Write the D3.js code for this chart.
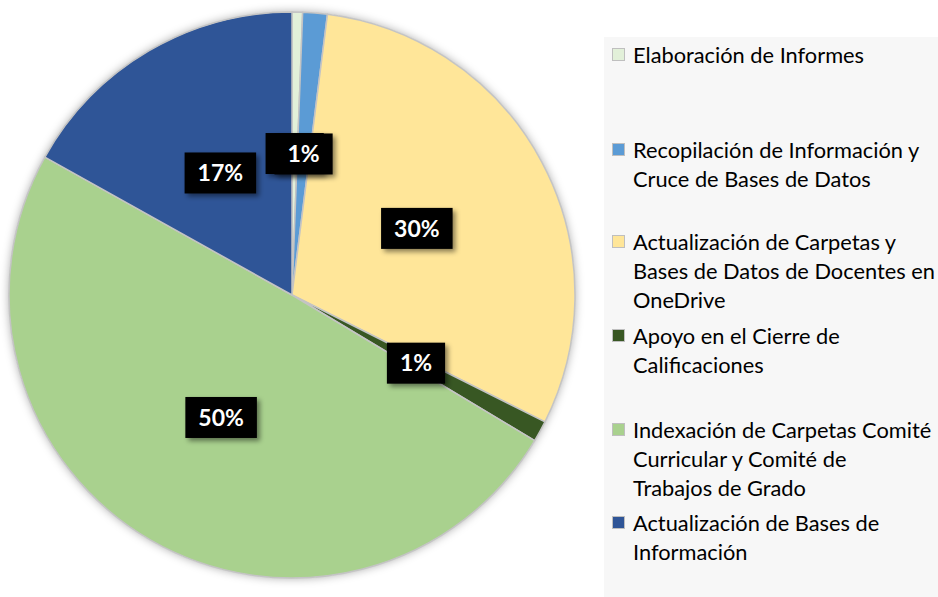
<!DOCTYPE html>
<html>
<head>
<meta charset="utf-8">
<script src="https://cdn.jsdelivr.net/npm/d3@7"></script>
<style>
  body { margin: 0; background: #fff; }
  svg { display: block; font-family: Lato, "Open Sans", sans-serif; }
</style>
</head>
<body>
<svg width="938" height="597"></svg>
<script>
const categories = [
    "Elaboración de Informes",
    "Recopilación de Información y Cruce de Bases de Datos",
    "Actualización de Carpetas y Bases de Datos de Docentes en OneDrive",
    "Apoyo en el Cierre de Calificaciones",
    "Indexación de Carpetas Comité Curricular y Comité de Trabajos de Grado",
    "Actualización de Bases de Información"
];
const values = [0.6, 1.4, 30.4, 1.2, 49.5, 16.9];
const colors = ["#E2F0D9", "#5B9BD5", "#FFE699", "#385723", "#A9D18E", "#2F5597"];
// legend lines as wrapped in the picture
const legendLines = [
    ["Elaboración de Informes"],
    ["Recopilación de Información y", "Cruce de Bases de Datos"],
    ["Actualización de Carpetas y", "Bases de Datos de Docentes en", "OneDrive"],
    ["Apoyo en el Cierre de", "Calificaciones"],
    ["Indexación de Carpetas Comité", "Curricular y Comité de", "Trabajos de Grado"],
    ["Actualización de Bases de", "Información"]
];
const legendTop = [55, 150, 242, 336, 430, 523];

const svg = d3.select("svg");
const cx = 292, cy = 295, r = 283;

const defs = svg.append("defs");
const pieShadow = defs.append("filter").attr("id", "pieShadow")
    .attr("x", "-10%").attr("y", "-10%").attr("width", "120%").attr("height", "120%");
pieShadow.append("feDropShadow").attr("dx", 0).attr("dy", 0)
    .attr("stdDeviation", 5).attr("flood-color", "#000").attr("flood-opacity", 0.35);
const boxShadow = defs.append("filter").attr("id", "boxShadow")
    .attr("x", "-20%").attr("y", "-20%").attr("width", "150%").attr("height", "150%");
boxShadow.append("feDropShadow").attr("dx", 3).attr("dy", 3)
    .attr("stdDeviation", 2.5).attr("flood-color", "#000").attr("flood-opacity", 0.45);

// Legend background
svg.append("rect")
    .attr("x", 604).attr("y", 37)
    .attr("width", 938 - 604).attr("height", 597 - 37)
    .attr("fill", "#F7F7F7");

const total = d3.sum(values);
const pie = d3.pie().sort(null).value(d => d)(values);
const arc = d3.arc().innerRadius(0).outerRadius(r);
const labelArc = d3.arc().innerRadius(r * 0.5).outerRadius(r * 0.5);

const g = svg.append("g").attr("transform", `translate(${cx},${cy})`);

g.append("circle").attr("r", r).attr("fill", "#fff").attr("filter", "url(#pieShadow)");

g.selectAll("path.slice")
    .data(pie)
    .enter()
    .append("path")
    .attr("class", "slice")
    .attr("d", arc)
    .attr("fill", (d, i) => colors[i])
    .attr("stroke", "#C4C4C4")
    .attr("stroke-width", 1.5)
    .attr("stroke-linejoin", "round");

// Data labels (0% hidden)
const fmt = d3.format(".0%");
const labels = g.selectAll("g.lbl")
    .data(pie.filter(d => Math.round(d.value / total * 100) > 0))
    .enter()
    .append("g")
    .attr("class", "lbl")
    .attr("transform", d => `translate(${labelArc.centroid(d)})`);

labels.each(function(d) {
    const sel = d3.select(this);
    const t = sel.append("text")
        .attr("text-anchor", "middle")
        .attr("dy", "0.36em")
        .attr("fill", "#fff")
        .style("font-size", "23px")
        .style("font-weight", "bold")
        .text(fmt(d.value / total));
    const w = t.node().getComputedTextLength() + 26;
    sel.insert("rect", "text")
        .attr("x", -w / 2).attr("y", -20.5)
        .attr("width", w).attr("height", 41)
        .attr("fill", "#000")
        .attr("filter", "url(#boxShadow)");
});

// Legend
const legend = svg.append("g");
categories.forEach((c, i) => {
    const y0 = legendTop[i];
    legend.append("rect")
        .attr("x", 612.5).attr("y", y0 - 6.5)
        .attr("width", 12).attr("height", 12)
        .attr("fill", colors[i])
        .attr("stroke", "#BFBFBF")
        .attr("stroke-width", 1);
    const t = legend.append("text")
        .attr("x", 633)
        .attr("fill", "#000")
        .style("font-size", "21.8px");
    legendLines[i].forEach((line, j) => {
        t.append("tspan")
            .attr("x", 633)
            .attr("y", y0 + j * 29)
            .attr("dy", "0.35em")
            .text(line);
    });
});
</script>
</body>
</html>
